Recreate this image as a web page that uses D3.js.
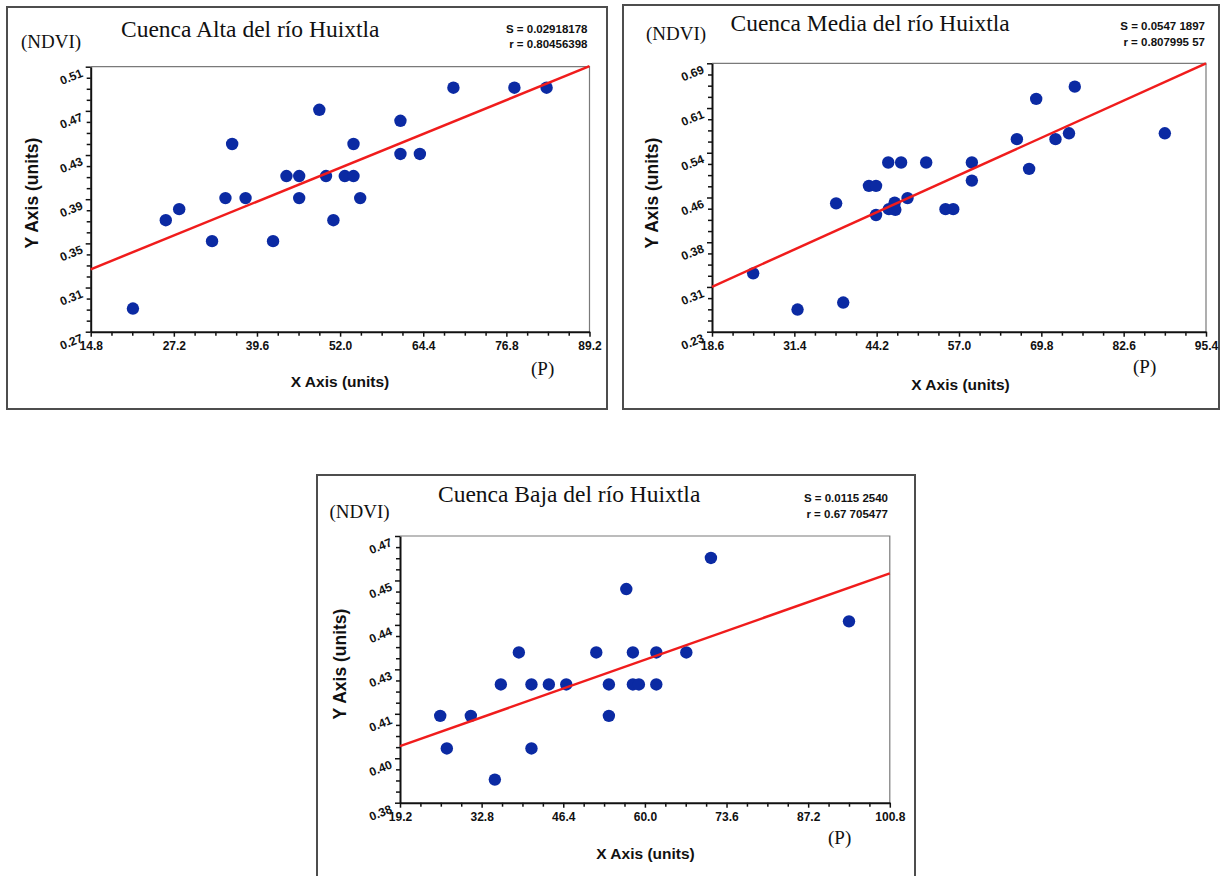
<!DOCTYPE html>
<html>
<head>
<meta charset="utf-8">
<script src="https://cdn.jsdelivr.net/npm/d3@7"></script>
<style>
  html, body { margin: 0; padding: 0; background: #fff; }
  svg { display: block; }
  .serif { font-family: "Liberation Serif", "DejaVu Serif", serif; fill: #111; }
  .sans { font-family: "Liberation Sans", Arial, sans-serif; font-weight: bold; fill: #111; }
</style>
</head>
<body>
<svg id="chart" width="1223" height="876"></svg>
<script>
// ---------- DATA ----------
const titles = ["Cuenca Alta del río Huixtla", "Cuenca Media del río Huixtla", "Cuenca Baja del río Huixtla"];
const statS = ["S = 0.02918178", "S = 0.0547 1897", "S = 0.0115 2540"];
const statR = ["r = 0.80456398", "r = 0.807995 57", "r = 0.67 705477"];

// Panel 1: Cuenca Alta
const altaX = [21.1, 26.0, 28.0, 32.9, 34.9, 35.9, 37.9, 42.0, 44.0, 45.9, 45.9, 48.9, 49.9, 51.0, 52.7, 54.0, 54.0, 55.0, 61.0, 61.0, 63.9, 68.9, 78.0, 82.8];
const altaY = [0.291, 0.371, 0.381, 0.352, 0.391, 0.440, 0.391, 0.352, 0.411, 0.411, 0.391, 0.471, 0.411, 0.371, 0.411, 0.411, 0.440, 0.391, 0.461, 0.431, 0.431, 0.491, 0.491, 0.491];
const altaFitX = [14.8, 89.2];
const altaFitY = [0.3265, 0.5105];
const altaXTicks = [14.8, 27.2, 39.6, 52.0, 64.4, 76.8, 89.2];
const altaXLabels = ["14.8", "27.2", "39.6", "52.0", "64.4", "76.8", "89.2"];
const altaYTicks = [0.27, 0.31, 0.35, 0.39, 0.43, 0.47, 0.51];
const altaYLabels = ["0.27", "0.31", "0.35", "0.39", "0.43", "0.47", "0.51"];

// Panel 2: Cuenca Media
const mediaX = [25.0, 31.9, 39.0, 37.9, 43.0, 44.1, 44.1, 46.0, 46.1, 47.0, 47.1, 48.0, 49.0, 51.9, 54.9, 56.1, 59.0, 59.0, 66.0, 67.9, 69.0, 72.0, 74.1, 75.0, 89.0];
const mediaY = [0.330, 0.268, 0.280, 0.450, 0.480, 0.480, 0.430, 0.520, 0.440, 0.451, 0.439, 0.520, 0.459, 0.520, 0.440, 0.440, 0.520, 0.489, 0.560, 0.509, 0.629, 0.560, 0.570, 0.650, 0.570];
const mediaFitX = [18.6, 95.4];
const mediaFitY = [0.307, 0.690];
const mediaXTicks = [18.6, 31.4, 44.2, 57.0, 69.8, 82.6, 95.4];
const mediaXLabels = ["18.6", "31.4", "44.2", "57.0", "69.8", "82.6", "95.4"];
const mediaYTicks = [0.23, 0.3067, 0.3833, 0.46, 0.5367, 0.6133, 0.69];
const mediaYLabels = ["0.23", "0.31", "0.38", "0.46", "0.54", "0.61", "0.69"];

// Panel 3: Cuenca Baja
const bajaX = [25.9, 27.0, 31.0, 35.0, 36.0, 39.0, 41.1, 41.1, 44.0, 46.9, 51.9, 54.0, 54.0, 56.9, 58.0, 58.0, 59.0, 61.9, 61.9, 66.9, 71.0, 94.0];
const bajaY = [0.4093, 0.3983, 0.4093, 0.3878, 0.4199, 0.4307, 0.4199, 0.3983, 0.4199, 0.4199, 0.4307, 0.4199, 0.4093, 0.4521, 0.4307, 0.4199, 0.4199, 0.4307, 0.4199, 0.4307, 0.4626, 0.4412];
const bajaFitX = [19.2, 100.8];
const bajaFitY = [0.3991, 0.4574];
const bajaXTicks = [19.2, 32.8, 46.4, 60.0, 73.6, 87.2, 100.8];
const bajaXLabels = ["19.2", "32.8", "46.4", "60.0", "73.6", "87.2", "100.8"];
const bajaYTicks = [0.38, 0.395, 0.41, 0.425, 0.44, 0.455, 0.47];
const bajaYLabels = ["0.38", "0.40", "0.41", "0.43", "0.44", "0.45", "0.47"];

// ---------- LAYOUT ----------
const panels = [
  { xs: altaX, ys: altaY, fx: altaFitX, fy: altaFitY, xt: altaXTicks, xl: altaXLabels, yt: altaYTicks, yl: altaYLabels,
    frame: [7, 7, 600, 402], plot: [90.7, 66.7, 589.5, 331.7],
    title: [121, 37], ndvi: [21, 48], stats: [587.5, 33, 48], ylab: [38, 193], xlab: [340, 387], p: [531, 375] },
  { xs: mediaX, ys: mediaY, fx: mediaFitX, fy: mediaFitY, xt: mediaXTicks, xl: mediaXLabels, yt: mediaYTicks, yl: mediaYLabels,
    frame: [623, 5, 596, 404], plot: [712, 63.3, 1206, 331.7],
    title: [730.5, 31], ndvi: [646, 40], stats: [1205, 29.5, 46], ylab: [658, 193], xlab: [960.5, 390], p: [1133, 373] },
  { xs: bajaX, ys: bajaY, fx: bajaFitX, fy: bajaFitY, xt: bajaXTicks, xl: bajaXLabels, yt: bajaYTicks, yl: bajaYLabels,
    frame: [317, 475, 598, 410], plot: [400, 536, 889.8, 802.7],
    title: [438, 502], ndvi: [329.5, 518], stats: [888, 502, 518], ylab: [346, 664], xlab: [645.5, 859], p: [828, 844] }
];

const svg = d3.select("#chart");

panels.forEach((P, i) => {
  const g = svg.append("g");
  const [fx0, fy0, fw, fh] = P.frame;
  g.append("rect").attr("x", fx0).attr("y", fy0).attr("width", fw).attr("height", fh)
    .attr("fill", "#fff").attr("stroke", "#4d4d4d").attr("stroke-width", 2);

  const [L, T, R, B] = P.plot;
  const x = d3.scaleLinear().domain([P.xt[0], P.xt[P.xt.length - 1]]).range([L, R]);
  const y = d3.scaleLinear().domain([P.yt[0], P.yt[P.yt.length - 1]]).range([B, T]);

  // frame top/right
  g.append("path").attr("d", `M${L},${T}H${R}V${B}`).attr("fill", "none").attr("stroke", "#7a7a7a").attr("stroke-width", 1.2);

  // minor ticks
  const minorX = [], minorY = [];
  for (let k = 0; k < P.xt.length - 1; k++) for (let m = 1; m < 4; m++) minorX.push(P.xt[k] + (P.xt[k + 1] - P.xt[k]) * m / 4);
  for (let k = 0; k < P.yt.length - 1; k++) for (let m = 1; m < 4; m++) minorY.push(P.yt[k] + (P.yt[k + 1] - P.yt[k]) * m / 4);

  const xMinor = g.append("g").attr("transform", `translate(0,${B})`)
    .call(d3.axisBottom(x).tickValues(minorX).tickSize(4).tickFormat(""));
  const yMinor = g.append("g").attr("transform", `translate(${L},0)`)
    .call(d3.axisLeft(y).tickValues(minorY).tickSize(4).tickFormat(""));
  [xMinor, yMinor].forEach(a => { a.select(".domain").remove(); a.selectAll("line").attr("stroke", "#111").attr("stroke-width", 1.5); });

  const xAx = g.append("g").attr("transform", `translate(0,${B})`)
    .call(d3.axisBottom(x).tickValues(P.xt).tickSize(5).tickSizeOuter(0).tickFormat((d, j) => P.xl[j]));
  xAx.select(".domain").attr("stroke", "#111").attr("stroke-width", 2);
  xAx.selectAll("line").attr("stroke", "#111").attr("stroke-width", 1.5);
  xAx.selectAll("text").attr("class", "sans").attr("font-size", 12).attr("y", 10).attr("dy", "0.71em");

  const yAx = g.append("g").attr("transform", `translate(${L},0)`)
    .call(d3.axisLeft(y).tickValues(P.yt).tickSize(5).tickSizeOuter(0).tickFormat((d, j) => P.yl[j]));
  yAx.select(".domain").attr("stroke", "#111").attr("stroke-width", 2);
  yAx.selectAll("line").attr("stroke", "#111").attr("stroke-width", 1.5);
  yAx.selectAll("text").attr("class", "sans").attr("font-size", 12)
    .attr("x", null).attr("dy", null).attr("text-anchor", "end")
    .attr("transform", "translate(-7,9) rotate(-22)");

  // points
  g.append("g").selectAll("circle").data(P.xs.map((v, j) => [v, P.ys[j]])).join("circle")
    .attr("cx", d => x(d[0])).attr("cy", d => y(d[1])).attr("r", 6.2).attr("fill", "#0b2aa3");

  // fit line
  g.append("line").attr("x1", x(P.fx[0])).attr("y1", y(P.fy[0])).attr("x2", x(P.fx[1])).attr("y2", y(P.fy[1]))
    .attr("stroke", "#f01c1c").attr("stroke-width", 2.5);

  // texts
  g.append("text").attr("class", "serif").attr("x", P.title[0]).attr("y", P.title[1]).attr("font-size", 23.5).text(titles[i]);
  g.append("text").attr("class", "serif").attr("x", P.ndvi[0]).attr("y", P.ndvi[1]).attr("font-size", 19).text("(NDVI)");
  g.append("text").attr("class", "sans").attr("x", P.stats[0]).attr("y", P.stats[1]).attr("font-size", 11.5).attr("text-anchor", "end").text(statS[i]);
  g.append("text").attr("class", "sans").attr("x", P.stats[0]).attr("y", P.stats[2]).attr("font-size", 11.5).attr("text-anchor", "end").text(statR[i]);
  g.append("text").attr("class", "sans").attr("font-size", 17.5).attr("text-anchor", "middle")
    .attr("transform", `translate(${P.ylab[0]},${P.ylab[1]}) rotate(-90)`).text("Y Axis (units)");
  g.append("text").attr("class", "sans").attr("font-size", 15.5).attr("text-anchor", "middle")
    .attr("x", P.xlab[0]).attr("y", P.xlab[1]).text("X Axis (units)");
  g.append("text").attr("class", "serif").attr("x", P.p[0]).attr("y", P.p[1]).attr("font-size", 19).text("(P)");
});
</script>
</body>
</html>
